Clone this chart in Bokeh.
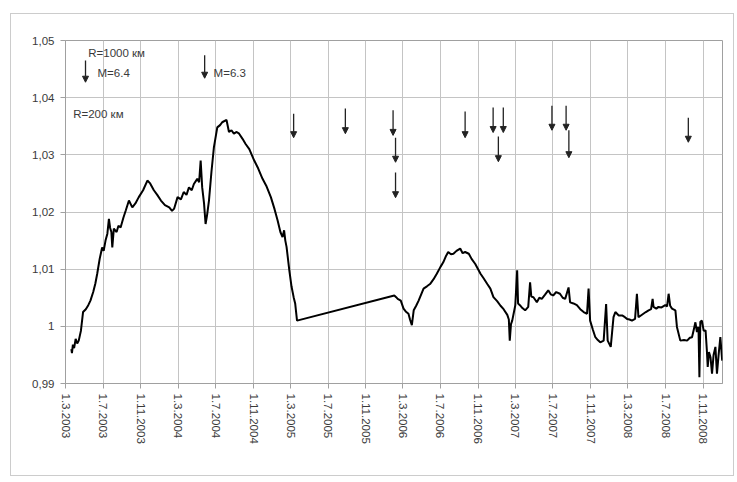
import pandas as pd
from bokeh.plotting import figure
from bokeh.models import (Range1d, FixedTicker, Label, Arrow, NormalHead,
                          ColumnDataSource)
from bokeh.embed import file_html
from bokeh.resources import INLINE

# ---- data -------------------------------------------------------------
dates = [
    "2003-03-20", "2003-03-22", "2003-03-25", "2003-03-29", "2003-04-03", "2003-04-08",
    "2003-04-13", "2003-04-20", "2003-04-27", "2003-05-06", "2003-05-14", "2003-05-21",
    "2003-05-30", "2003-06-06", "2003-06-12", "2003-06-20", "2003-06-28", "2003-07-03",
    "2003-07-09", "2003-07-15", "2003-07-20", "2003-07-24", "2003-07-28", "2003-07-31",
    "2003-08-05", "2003-08-14", "2003-08-20", "2003-08-27", "2003-09-05", "2003-09-13",
    "2003-09-23", "2003-10-04", "2003-10-14", "2003-10-25", "2003-11-08", "2003-11-22",
    "2003-12-01", "2003-12-13", "2003-12-24", "2004-01-05", "2004-01-18", "2004-02-01",
    "2004-02-10", "2004-02-17", "2004-02-28", "2004-03-10", "2004-03-19", "2004-03-28",
    "2004-04-05", "2004-04-14", "2004-04-21", "2004-05-02", "2004-05-08", "2004-05-13",
    "2004-05-18", "2004-05-24", "2004-05-29", "2004-06-03", "2004-06-09", "2004-06-17",
    "2004-06-25", "2004-07-06", "2004-07-15", "2004-07-22", "2004-08-05", "2004-08-13",
    "2004-08-21", "2004-08-29", "2004-09-07", "2004-09-15", "2004-09-26", "2004-10-06",
    "2004-10-18", "2004-11-03", "2004-11-16", "2004-11-30", "2004-12-12", "2004-12-27",
    "2005-01-08", "2005-01-18", "2005-01-27", "2005-02-03", "2005-02-08", "2005-02-12",
    "2005-02-16", "2005-02-25", "2005-03-04", "2005-03-11", "2005-03-16", "2005-03-22",
    "2006-02-01", "2006-02-07", "2006-02-12", "2006-02-22", "2006-03-03", "2006-03-10",
    "2006-03-19", "2006-03-24", "2006-03-30", "2006-04-05", "2006-04-13", "2006-04-21",
    "2006-05-07", "2006-05-18", "2006-05-28", "2006-06-08", "2006-06-19", "2006-07-01",
    "2006-07-10", "2006-07-18", "2006-07-26", "2006-08-04", "2006-08-12", "2006-08-22",
    "2006-09-03", "2006-09-11", "2006-09-19", "2006-10-01", "2006-10-10", "2006-10-22",
    "2006-11-08", "2006-11-18", "2006-11-30", "2006-12-10", "2006-12-20", "2007-01-01",
    "2007-01-12", "2007-01-22", "2007-02-03", "2007-02-08", "2007-02-11", "2007-02-15",
    "2007-02-19", "2007-03-01", "2007-03-07", "2007-03-10", "2007-03-16", "2007-03-24",
    "2007-04-02", "2007-04-12", "2007-04-18", "2007-04-22", "2007-04-29", "2007-05-10",
    "2007-05-18", "2007-05-26", "2007-06-05", "2007-06-16", "2007-06-24", "2007-07-02",
    "2007-07-12", "2007-07-24", "2007-08-02", "2007-08-10", "2007-08-21", "2007-08-26",
    "2007-09-06", "2007-09-17", "2007-09-28", "2007-10-09", "2007-10-20", "2007-10-25",
    "2007-10-30", "2007-11-08", "2007-11-16", "2007-11-24", "2007-12-02", "2007-12-13",
    "2007-12-21", "2007-12-26", "2008-01-05", "2008-01-14", "2008-01-20", "2008-01-31",
    "2008-02-11", "2008-02-20", "2008-02-27", "2008-03-06", "2008-03-14", "2008-03-24",
    "2008-03-30", "2008-04-04", "2008-04-12", "2008-04-20", "2008-04-28", "2008-05-07",
    "2008-05-15", "2008-05-20", "2008-05-23", "2008-06-01", "2008-06-08", "2008-06-18",
    "2008-06-30", "2008-07-06", "2008-07-11", "2008-07-16", "2008-07-22", "2008-08-02",
    "2008-08-07", "2008-08-18", "2008-08-30", "2008-09-09", "2008-09-18", "2008-09-25",
    "2008-10-01", "2008-10-06", "2008-10-11", "2008-10-16", "2008-10-19", "2008-10-22",
    "2008-10-27", "2008-11-02", "2008-11-08", "2008-11-12", "2008-11-15", "2008-11-19",
    "2008-11-24", "2008-11-29", "2008-12-04", "2008-12-10", "2008-12-15", "2008-12-20",
    "2008-12-26", "2009-01-01",
]
values = [
    0.9960, 0.9953, 0.9968, 0.9962, 0.9978, 0.9970,
    0.9975, 0.9992, 1.0025, 1.0030, 1.0037, 1.0045,
    1.0060, 1.0075, 1.0092, 1.0118, 1.0138, 1.0132,
    1.0150, 1.0162, 1.0188, 1.0172, 1.0165, 1.0138,
    1.0171, 1.0165, 1.0176, 1.0173, 1.0190, 1.0203,
    1.0220, 1.0208, 1.0215, 1.0226, 1.0238, 1.0255,
    1.0250, 1.0238, 1.0230, 1.0220, 1.0212, 1.0208,
    1.0202, 1.0206, 1.0226, 1.0222, 1.0235, 1.0230,
    1.0243, 1.0238, 1.0249, 1.0258, 1.0252, 1.0290,
    1.0243, 1.0215, 1.0179, 1.0195, 1.0220, 1.0270,
    1.0313, 1.0348, 1.0352, 1.0357, 1.0361, 1.0340,
    1.0343, 1.0337, 1.0340, 1.0337, 1.0328, 1.0319,
    1.0310, 1.0290, 1.0276, 1.0258, 1.0246, 1.0226,
    1.0205, 1.0185, 1.0165, 1.0156, 1.0168, 1.0150,
    1.0139, 1.0098, 1.0070, 1.0051, 1.0040, 1.0010,
    1.0054, 1.0051, 1.0048, 1.0045, 1.0031, 1.0026,
    1.0022, 1.0012, 1.0002, 1.0028, 1.0036, 1.0045,
    1.0066, 1.0070, 1.0074, 1.0082, 1.0092, 1.0104,
    1.0112, 1.0122, 1.0130, 1.0126, 1.0127, 1.0132,
    1.0136, 1.0128, 1.0130, 1.0127, 1.0118, 1.0109,
    1.0092, 1.0084, 1.0074, 1.0066, 1.0051, 1.0044,
    1.0036, 1.0030, 1.0020, 1.0012, 0.9975, 1.0004,
    1.0010, 1.0037, 1.0098, 1.0040, 1.0037, 1.0032,
    1.0028, 1.0034, 1.0077, 1.0052, 1.0051, 1.0042,
    1.0050, 1.0048, 1.0055, 1.0063, 1.0056, 1.0054,
    1.0060, 1.0057, 1.0050, 1.0048, 1.0068, 1.0042,
    1.0040, 1.0037, 1.0030, 1.0025, 1.0022, 1.0066,
    1.0010, 0.9994, 0.9981, 0.9976, 0.9972, 0.9975,
    1.0039, 0.9975, 0.9964, 1.0016, 1.0025, 1.0019,
    1.0019, 1.0016, 1.0013, 1.0012, 1.0010, 1.0013,
    1.0057, 1.0016, 1.0019, 1.0022, 1.0025, 1.0028,
    1.0030, 1.0048, 1.0034, 1.0031, 1.0034, 1.0033,
    1.0037, 1.0035, 1.0057, 1.0036, 1.0031, 1.0028,
    0.9999, 0.9975, 0.9976, 0.9975, 0.9980, 0.9981,
    0.9995, 1.0007, 0.9990, 0.9999, 0.9911, 1.0008,
    1.0010, 0.9992, 0.9993, 0.9960, 0.9929, 0.9955,
    0.9946, 0.9917, 0.9950, 0.9964, 0.9917, 0.9948,
    0.9981, 0.9940,
]

# earthquake arrows (date, top value, bottom value)
quake_dates = ["2003-05-05", "2004-05-26",
               "2005-03-11", "2005-08-26", "2006-01-28", "2006-02-05", "2006-02-05",
               "2006-09-19", "2006-12-19", "2007-01-05", "2007-01-21",
               "2007-06-28", "2007-08-13", "2007-08-22", "2008-09-13"]
quake_top = [1.0465, 1.0474,
             1.0372, 1.0381, 1.0378, 1.0330, 1.0269,
             1.0376, 1.0383, 1.0332, 1.0383,
             1.0386, 1.0386, 1.0343, 1.0365]
quake_bottom = [1.0427, 1.0434,
                1.0330, 1.0337, 1.0334, 1.0287, 1.0225,
                1.0330, 1.0339, 1.0288, 1.0339,
                1.0343, 1.0343, 1.0295, 1.0322]

tick_dates = ["2003-03-01", "2003-07-01", "2003-11-01", "2004-03-01", "2004-07-01",
              "2004-11-01", "2005-03-01", "2005-07-01", "2005-11-01", "2006-03-01",
              "2006-07-01", "2006-11-01", "2007-03-01", "2007-07-01", "2007-11-01",
              "2008-03-01", "2008-07-01", "2008-11-01"]
tick_labels = ["1.3.2003", "1.7.2003", "1.11.2003", "1.3.2004", "1.7.2004",
               "1.11.2004", "1.3.2005", "1.7.2005", "1.11.2005", "1.3.2006",
               "1.7.2006", "1.11.2006", "1.3.2007", "1.7.2007", "1.11.2007",
               "1.3.2008", "1.7.2008", "1.11.2008"]
y_ticks = [0.99, 1.00, 1.01, 1.02, 1.03, 1.04, 1.05]
y_labels = ["0,99", "1", "1,01", "1,02", "1,03", "1,04", "1,05"]

# ---- helpers ----------------------------------------------------------
def ms(s):
    return pd.Timestamp(s).value // 10**6

FONT = "Liberation Sans"
TXT = "#3a3a3a"
GRID = "#c4c4c4"

p = figure(width=724, height=463, x_axis_type="datetime",
           output_backend="svg", toolbar_location=None,
           x_range=Range1d(ms("2003-03-01"), ms("2009-01-02")),
           y_range=Range1d(0.99, 1.05),
           min_border_left=54, min_border_right=13,
           min_border_top=26, min_border_bottom=94)
p.styles = {"margin-left": "10px", "margin-top": "13px",
            "border": "1.5px solid #cccccc"}

p.background_fill_color = "white"
p.outline_line_color = "#a0a0a0"
p.outline_line_width = 1

# axes
xt = [ms(d) for d in tick_dates]
p.xaxis.ticker = FixedTicker(ticks=xt)
p.xaxis.major_label_overrides = {t: l for t, l in zip(xt, tick_labels)}
p.xaxis.major_label_orientation = "vertical"
p.yaxis.ticker = FixedTicker(ticks=y_ticks)
p.yaxis.major_label_overrides = {t: l for t, l in zip(y_ticks, y_labels)}
for ax in (p.xaxis, p.yaxis):
    ax.axis_line_color = "#a0a0a0"
    ax.major_tick_line_color = "#a0a0a0"
    ax.major_tick_out = 5
    ax.major_tick_in = 0
    ax.minor_tick_line_color = None
    ax.major_label_text_font = FONT
    ax.major_label_text_font_size = "11.5px"
    ax.major_label_text_color = TXT
p.yaxis.major_label_standoff = 6
p.xaxis.major_label_standoff = 5

p.xgrid.ticker = FixedTicker(ticks=xt)
p.ygrid.ticker = FixedTicker(ticks=y_ticks)
for g in (p.xgrid, p.ygrid):
    g.grid_line_color = GRID
    g.grid_line_width = 1

# series
src = ColumnDataSource(dict(x=pd.to_datetime(dates), y=values))
p.line("x", "y", source=src, line_color="black", line_width=2)

# earthquake arrows
asrc = ColumnDataSource(dict(x=[ms(d) for d in quake_dates],
                             y0=quake_top, y1=quake_bottom))
p.add_layout(Arrow(source=asrc, x_start="x", y_start="y0", x_end="x", y_end="y1",
                   line_color="#222222", line_width=1.3,
                   end=NormalHead(size=6, fill_color="#222222", line_color="#222222")))

# texts
def lab(x, y, t, size="11.5px"):
    p.add_layout(Label(x=ms(x), y=y, text=t, text_font=FONT, text_font_size=size,
                       text_color=TXT, text_baseline="middle", text_align="left"))

lab("2003-03-07", 1.0526, "ΔU/I (мВ/мА)", "13.5px")
lab("2003-05-14", 1.0479, "R=1000 км")
lab("2003-06-13", 1.0444, "M=6.4")
lab("2004-06-24", 1.0444, "M=6.3")
lab("2003-03-26", 1.0372, "R=200 км")

open("out.html", "w").write(file_html(p, INLINE))
